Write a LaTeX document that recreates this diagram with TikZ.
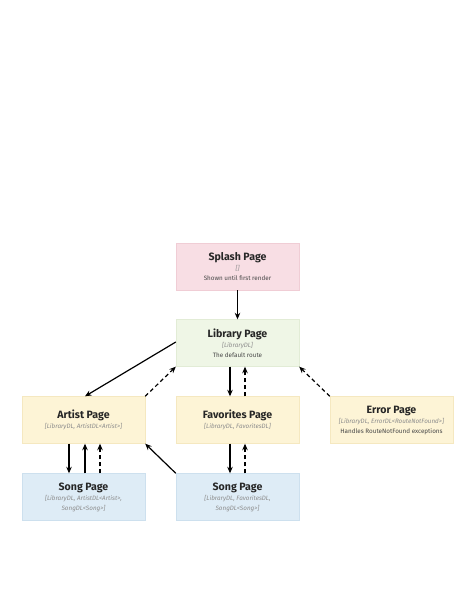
\documentclass[tikz,border=0pt]{standalone}
\usepackage{fontspec}
\setmainfont{Fira Sans}
\usetikzlibrary{arrows.meta}

\definecolor{splashfill}{RGB}{248,222,228}
\definecolor{splashline}{RGB}{240,205,213}
\definecolor{libfill}{RGB}{239,246,230}
\definecolor{libline}{RGB}{226,236,214}
\definecolor{pagefill}{RGB}{253,244,214}
\definecolor{pageline}{RGB}{245,232,192}
\definecolor{songfill}{RGB}{222,236,246}
\definecolor{songline}{RGB}{205,224,238}
\definecolor{dlgray}{RGB}{140,140,140}
\definecolor{notegray}{RGB}{70,70,70}

\newcommand{\pagetitle}[1]{{\fontsize{10.6}{12}\selectfont\bfseries #1}}
\newcommand{\dlist}[1]{{\fontsize{6.3}{8.5}\selectfont\itshape\color{dlgray}#1}}
\newcommand{\pnote}[1]{{\fontsize{6.3}{8.5}\selectfont\color{notegray}#1}}

\tikzset{
    pagebox/.style={rectangle, minimum width=123pt, minimum height=47pt,
        inner sep=0pt, align=center, line width=0.4pt, text=black!85},
    nav/.style={-{Stealth[length=6.5pt,width=5.5pt]}, line width=1.2pt},
    back/.style={nav, dash pattern=on 4pt off 3pt}
}

\begin{document}
\begin{tikzpicture}[x=1pt, y=-1pt]
    \useasboundingbox (0,0) rectangle (474,600);

    % Pages
    \node[pagebox, fill=splashfill, draw=splashline] (splash) at (237.5,266.5)
        {\pagetitle{Splash Page}\\[-1.5pt]\dlist{[]}\\[-2.5pt]\pnote{Shown until first render}};
    \node[pagebox, fill=libfill, draw=libline] (library) at (237.5,343)
        {\pagetitle{Library Page}\\[-1.5pt]\dlist{[LibraryDL]}\\[-2.5pt]\pnote{The default route}};
    \node[pagebox, fill=pagefill, draw=pageline] (artist) at (83.5,420)
        {\pagetitle{Artist Page}\\[-1.5pt]\dlist{[LibraryDL, ArtistDL<Artist>]}};
    \node[pagebox, fill=pagefill, draw=pageline] (favorites) at (237.5,420)
        {\pagetitle{Favorites Page}\\[-1.5pt]\dlist{[LibraryDL, FavoritesDL]}};
    \node[pagebox, fill=pagefill, draw=pageline] (error) at (391.5,420)
        {\pagetitle{Error Page}\\[-1.5pt]\dlist{[LibraryDL, ErrorDL<RouteNotFound>]}\\[-2.5pt]\pnote{Handles RouteNotFound exceptions}};
    \node[pagebox, fill=songfill, draw=songline] (artistsong) at (83.5,497)
        {\pagetitle{Song Page}\\[-1.5pt]\dlist{[LibraryDL, ArtistDL<Artist>,}\\[-2.5pt]\dlist{SongDL<Song>]}};
    \node[pagebox, fill=songfill, draw=songline] (favsong) at (237.5,497)
        {\pagetitle{Song Page}\\[-1.5pt]\dlist{[LibraryDL, FavoritesDL,}\\[-2.5pt]\dlist{SongDL<Song>]}};

    % Forward navigation
    \draw[nav] (splash) -- (library);
    \draw[nav] ([yshift=1pt]library.west) -- ([xshift=1.5pt]artist.north);
    \draw[nav] ([xshift=-7.5pt]library.south) -- ([xshift=-7.5pt]favorites.north);
    \draw[nav] ([xshift=-14.5pt]artist.south) -- ([xshift=-14.5pt]artistsong.north);
    \draw[nav] ([xshift=-7.5pt]favorites.south) -- ([xshift=-7.5pt]favsong.north);

    % Going back
    \draw[nav] ([xshift=1.5pt]artistsong.north) -- ([xshift=1.5pt]artist.south);
    \draw[nav] (favsong.north west) -- (artist.south east);
    \draw[back] ([xshift=16.5pt]artistsong.north) -- ([xshift=16.5pt]artist.south);
    \draw[back] ([xshift=7.5pt]favsong.north) -- ([xshift=7.5pt]favorites.south);
    \draw[back] ([xshift=7.5pt]favorites.north) -- ([xshift=7.5pt]library.south);
    \draw[back] (artist.north east) -- (library.south west);
    \draw[back] (error.north west) -- (library.south east);
\end{tikzpicture}
\end{document}
